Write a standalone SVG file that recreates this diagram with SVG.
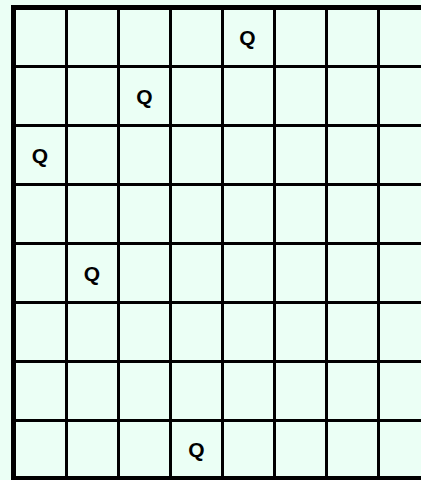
<svg xmlns="http://www.w3.org/2000/svg" width="421" height="480" viewBox="0 0 421 480">
  <style>
    .bg { fill: #ebfff5; }
    .grid line { stroke: #000; stroke-width: 3; }
    .border { fill: none; stroke: #000; stroke-width: 5; }
    .q { font-family: "Liberation Sans", Arial, sans-serif; font-weight: bold; font-size: 21px; text-anchor: middle; fill: #000; }
  </style>
  <rect class="bg" x="0" y="0" width="421" height="480"/>
  <g id="grid" class="grid">
    <line x1="13.5" y1="66.5" x2="440" y2="66.5"/>
    <line x1="13.5" y1="125.5" x2="440" y2="125.5"/>
    <line x1="13.5" y1="184.5" x2="440" y2="184.5"/>
    <line x1="13.5" y1="243.5" x2="440" y2="243.5"/>
    <line x1="13.5" y1="302.5" x2="440" y2="302.5"/>
    <line x1="13.5" y1="361.5" x2="440" y2="361.5"/>
    <line x1="13.5" y1="420.5" x2="440" y2="420.5"/>
    <line x1="66.5" y1="7.5" x2="66.5" y2="478.5"/>
    <line x1="118.5" y1="7.5" x2="118.5" y2="478.5"/>
    <line x1="170.5" y1="7.5" x2="170.5" y2="478.5"/>
    <line x1="222.5" y1="7.5" x2="222.5" y2="478.5"/>
    <line x1="274.5" y1="7.5" x2="274.5" y2="478.5"/>
    <line x1="326.5" y1="7.5" x2="326.5" y2="478.5"/>
    <line x1="378.5" y1="7.5" x2="378.5" y2="478.5"/>
  </g>
  <rect id="board-border" class="border" x="13.5" y="7.5" width="416" height="471"/>
  <g id="queens">
    <g id="q-r0"><text class="q" x="247.5" y="44.5">Q</text></g>
    <g id="q-r1"><text class="q" x="144.5" y="103.5">Q</text></g>
    <g id="q-r2"><text class="q" x="40" y="162.5">Q</text></g>
    <g id="q-r4"><text class="q" x="92" y="280.5">Q</text></g>
    <g id="q-r7"><text class="q" x="196.5" y="456.5">Q</text></g>
  </g>
</svg>
